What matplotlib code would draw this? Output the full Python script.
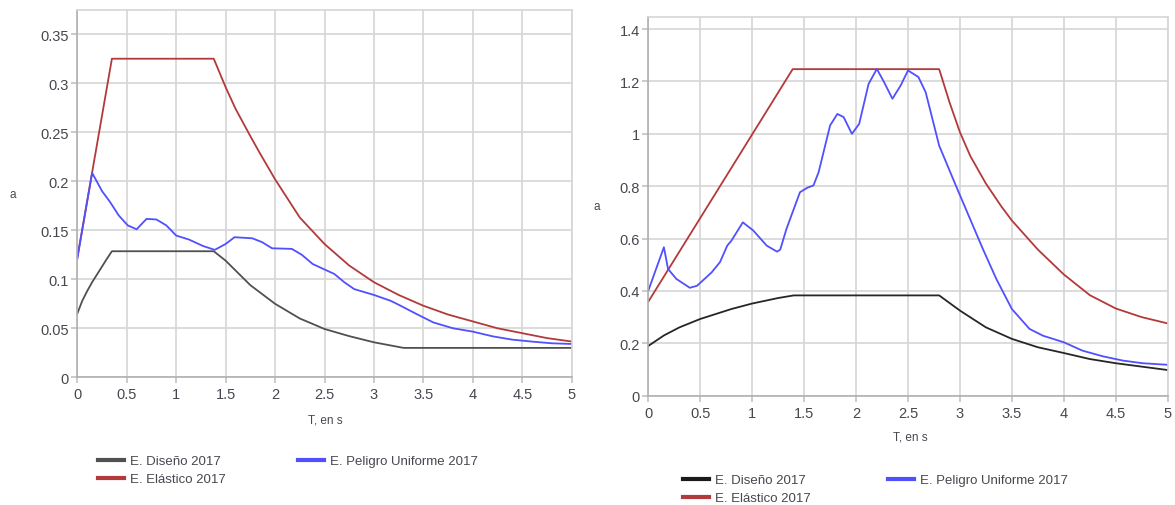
import matplotlib
matplotlib.use("Agg")
import matplotlib.pyplot as plt
from matplotlib.ticker import MultipleLocator, FuncFormatter
from matplotlib.lines import Line2D

plt.rcParams["font.family"] = ["Liberation Sans", "DejaVu Sans"]

# ---- Spectrum 1 (left panel) ----
t1_diseno = [0, 0.05, 0.1, 0.15, 0.2, 0.25, 0.3, 0.35, 1.38, 1.5, 1.75, 2.0,
             2.25, 2.5, 2.75, 3.0, 3.3, 5.0]
a1_diseno = [0.065, 0.078, 0.088, 0.097, 0.105, 0.113, 0.121, 0.1286, 0.1286,
             0.119, 0.094, 0.075, 0.060, 0.0493, 0.042, 0.0357, 0.030, 0.030]

t1_elastico = [0, 0.35, 1.38, 1.5, 1.6, 1.75, 1.85, 2.0, 2.25, 2.5, 2.75, 3.0,
               3.25, 3.5, 3.75, 4.0, 4.25, 4.5, 4.75, 5.0]
a1_elastico = [0.122, 0.325, 0.325, 0.296, 0.274, 0.246, 0.228, 0.202, 0.163,
               0.136, 0.114, 0.097, 0.084, 0.073, 0.064, 0.057, 0.050, 0.045,
               0.040, 0.0365]

t1_peligro = [0, 0.15, 0.25, 0.33, 0.42, 0.51, 0.6, 0.7, 0.8, 0.9, 1.0, 1.13,
              1.27, 1.39, 1.5, 1.59, 1.77, 1.87, 1.97, 2.17, 2.27, 2.38, 2.5,
              2.6, 2.7, 2.8, 3.0, 3.17, 3.27, 3.43, 3.6, 3.8, 4.0, 4.2, 4.4,
              4.6, 4.8, 5.0]
a1_peligro = [0.121, 0.2085, 0.190, 0.179, 0.165, 0.155, 0.151, 0.1616, 0.161,
              0.155, 0.1446, 0.1405, 0.134, 0.130, 0.136, 0.1429, 0.1418,
              0.1378, 0.1316, 0.131, 0.125, 0.1156, 0.110, 0.1054, 0.097,
              0.090, 0.084, 0.078, 0.073, 0.0646, 0.056, 0.050, 0.0466,
              0.0418, 0.0384, 0.0364, 0.0347, 0.034]

# ---- Spectrum 2 (right panel) ----
t2_diseno = [0, 0.15, 0.3, 0.5, 0.8, 1.0, 1.25, 1.4, 2.8, 3.0, 3.25, 3.5,
             3.75, 4.0, 4.25, 4.5, 4.75, 5.0]
a2_diseno = [0.19, 0.230, 0.261, 0.293, 0.331, 0.352, 0.373, 0.383, 0.383,
             0.325, 0.261, 0.217, 0.185, 0.163, 0.140, 0.124, 0.111, 0.098]

t2_elastico = [0, 1.39, 2.8, 2.9, 3.0, 3.1, 3.25, 3.4, 3.5, 3.75, 4.0, 4.25,
               4.5, 4.75, 5.0]
a2_elastico = [0.359, 1.247, 1.247, 1.12, 1.006, 0.915, 0.810, 0.722, 0.669,
               0.558, 0.463, 0.384, 0.333, 0.300, 0.276]

t2_peligro = [0, 0.15, 0.19, 0.27, 0.4, 0.47, 0.61, 0.69, 0.76, 0.8, 0.91,
              1.01, 1.14, 1.24, 1.27, 1.33, 1.46, 1.53, 1.59, 1.64, 1.75, 1.82,
              1.88, 1.96, 2.03, 2.12, 2.2, 2.27, 2.35, 2.43, 2.5, 2.6, 2.67,
              2.8, 2.96, 3.09, 3.22, 3.35, 3.5, 3.67, 3.8, 4.0, 4.18, 4.38,
              4.57, 4.76, 5.0]
a2_peligro = [0.401, 0.567, 0.484, 0.446, 0.412, 0.420, 0.471, 0.51, 0.573,
              0.592, 0.662, 0.631, 0.573, 0.550, 0.558, 0.637, 0.777, 0.794,
              0.803, 0.854, 1.032, 1.076, 1.064, 1.0, 1.038, 1.19, 1.248,
              1.197, 1.134, 1.185, 1.242, 1.217, 1.159, 0.955, 0.803, 0.682,
              0.561, 0.446, 0.331, 0.255, 0.229, 0.204, 0.172, 0.150, 0.134,
              0.124, 0.118]

labels = ["E. Diseño 2017", "E. Elástico 2017", "E. Peligro Uniforme 2017"]
x_label = "T, en s"
y_label = "a"

RED = "#B23A3A"
BLUE = "#5050FF"
GRID = "#d6d6d6"
TXT = "#474750"

W, H = 1175, 506
fig = plt.figure(figsize=(W / 100, H / 100), dpi=100)
ax1 = fig.add_axes([77.3 / W, 1 - 378.3 / H, 494.4 / W, 367.6 / H])
ax2 = fig.add_axes([648.3 / W, 1 - 396.7 / H, 519.4 / W, 378.4 / H])

fmt = FuncFormatter(lambda v, p: f"{v:g}")


def style(ax, ymax, ystep):
    ax.set_xlim(0, 5)
    ax.set_ylim(0, ymax)
    ax.xaxis.set_major_locator(MultipleLocator(0.5))
    ax.yaxis.set_major_locator(MultipleLocator(ystep))
    ax.xaxis.set_major_formatter(fmt)
    ax.yaxis.set_major_formatter(fmt)
    ax.grid(True, color=GRID, linewidth=1.2)
    ax.set_axisbelow(True)
    for s in ax.spines.values():
        s.set_color(GRID)
        s.set_linewidth(1.2)
    ax.spines["left"].set_color("#b0b0b0")
    ax.spines["bottom"].set_color("#b0b0b0")
    ax.tick_params(length=4, width=1.1, color="#bdbdbd", labelsize=10.5,
                   labelcolor=TXT)
    ax.tick_params(axis="x", pad=3.2)
    ax.tick_params(axis="y", pad=2.2)
    ax.set_xlabel(x_label, fontsize=8.5, color=TXT)
    ax.set_ylabel(y_label, fontsize=8.5, color=TXT, rotation=0)


style(ax1, 0.375, 0.05)
style(ax2, 1.445, 0.2)

ax1.plot(t1_diseno, a1_diseno, color="#505050", lw=1.3)
ax1.plot(t1_elastico, a1_elastico, color=RED, lw=1.3)
ax1.plot(t1_peligro, a1_peligro, color=BLUE, lw=1.3)

ax2.plot(t2_diseno, a2_diseno, color="#262626", lw=1.3)
ax2.plot(t2_elastico, a2_elastico, color=RED, lw=1.3)
ax2.plot(t2_peligro, a2_peligro, color=BLUE, lw=1.3)

ax1.xaxis.set_label_coords((325 - 77.3) / 494.4, (378.3 - 421) / 367.6)
ax1.yaxis.set_label_coords((13 - 77.3) / 494.4, 0.5)
ax2.xaxis.set_label_coords((910 - 648.3) / 519.4, (396.7 - 437) / 378.4)
ax2.yaxis.set_label_coords((597 - 648.3) / 519.4, 0.5)
for ax in (ax1, ax2):
    ax.xaxis.label.set_va("center")
    ax.yaxis.label.set_va("center")
    ax.yaxis.label.set_ha("center")


def add_legends(x1, x2, ytop, dark):
    kw = dict(loc="upper left", frameon=False, borderpad=0, borderaxespad=0,
              handlelength=2.0, handletextpad=0.45, fontsize=9.5,
              labelspacing=0.45, labelcolor=TXT)
    h1 = [Line2D([], [], color=dark, lw=3), Line2D([], [], color=RED, lw=3)]
    h2 = [Line2D([], [], color=BLUE, lw=3)]
    fig.legend(h1, labels[:2], bbox_to_anchor=(x1 / W, 1 - ytop / H), **kw)
    fig.legend(h2, labels[2:], bbox_to_anchor=(x2 / W, 1 - ytop / H), **kw)


add_legends(98, 298, 456, "#505050")
add_legends(683, 888, 475, "#1a1a1a")

fig.savefig("out.png", dpi=100)
